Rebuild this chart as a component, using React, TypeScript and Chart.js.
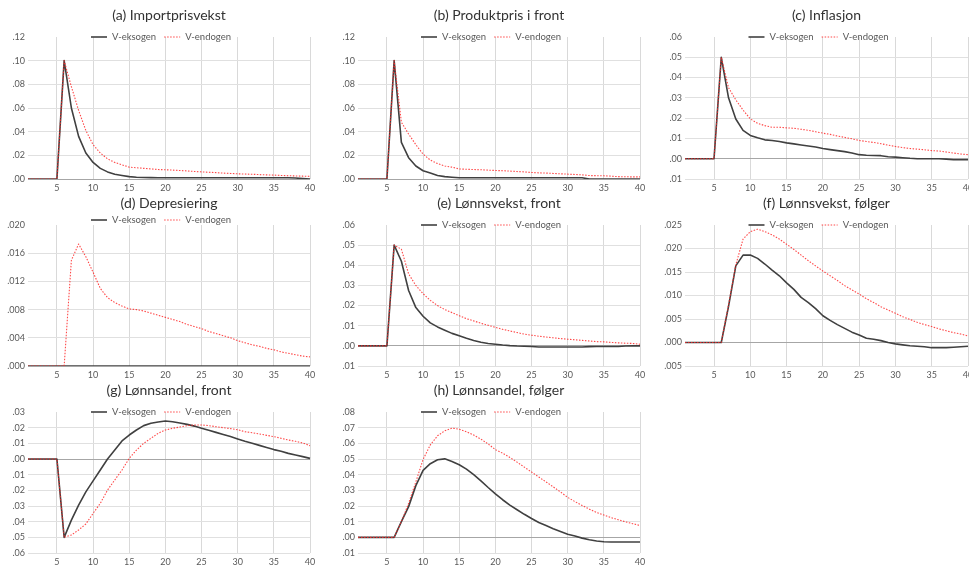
import React, { useEffect, useRef } from 'react';
import { Chart, registerables } from 'chart.js';

Chart.register(...registerables);

const periods = ['1','2','3','4','5','6','7','8','9','10','11','12','13','14','15','16','17','18','19','20','21','22','23','24','25','26','27','28','29','30','31','32','33','34','35','36','37','38','39','40'];

const seriesNames = ['V-eksogen', 'V-endogen'];

const importEks = [0,0,0,0,0, .100,.060,.036,.022,.014, .009,.006,.004,.003,.002, .0015,.0013,.0012,.0011,.001, .001,.001,.001,.001,.001, .001,.001,.001,.001,.001, .001,.001,.001,.001,.001, .001,.001,.0008,.0004,0];
const importEnd = [0,0,0,0,0, .100,.078,.058,.041,.029, .022,.017,.014,.012,.010, .0095,.009,.0085,.008,.0078, .0075,.0072,.0068,.0064,.006, .0057,.0054,.005,.0047,.0044, .0042,.004,.0037,.0035,.0033, .003,.0028,.0026,.0024,.0022];

const prodEks = [0,0,0,0,0, .100,.031,.018,.011,.007, .005,.003,.002,.0015,.001, .001,.001,.001,.001,.001, .001,.001,.001,.001,.001, .001,.001,.001,.001,.001, .001,.001,0,0,0, 0,0,0,0,0];
const prodEnd = [0,0,0,0,0, .100,.048,.038,.029,.021, .016,.013,.011,.010,.0085, .0082,.008,.0078,.0075,.0072, .007,.0067,.0063,.006,.0055, .0052,.005,.0047,.0044,.0041, .0038,.0035,.0029,.0028,.0027, .0024,.002,.0019,.0018,.0018];

const inflEks = [0,0,0,0,0, .050,.030,.0196,.014,.0115, .0103,.0093,.009,.0085,.0078, .0073,.0068,.0063,.0058,.005, .0045,.004,.0035,.0028,.002, .0017,.0016,.0015,.001,.0008, .0005,.0002,0,0,0, 0,-.0002,-.0005,-.0005,-.0005];
const inflEnd = [0,0,0,0,0, .050,.035,.029,.024,.0196, .0175,.0163,.0155,.0155,.0152, .015,.0145,.014,.0133,.0126, .012,.0112,.0105,.0098,.009, .0085,.008,.0074,.0067,.006, .0055,.005,.0047,.0044,.004, .0038,.0033,.0028,.0023,.002];

const deprEks = [0,0,0,0,0, 0,0,0,0,0, 0,0,0,0,0, 0,0,0,0,0, 0,0,0,0,0, 0,0,0,0,0, 0,0,0,0,0, 0,0,0,0,0];
const deprEnd = [0,0,0,0,0, 0,.015,.0173,.0155,.0133, .011,.0097,.009,.0085,.0081, .008,.0078,.0075,.0072,.0069, .0066,.0063,.0059,.0056,.0053, .0049,.0046,.0043,.004,.0036, .0033,.003,.0028,.0025,.0023, .002,.0018,.0016,.0014,.0013];

const wageFrontEks = [0,0,0,0,0, .050,.042,.0275,.019,.0147, .0114,.0094,.0078,.0062,.005, .0038,.0027,.0018,.0012,.0008, .0004,.0001,-.0001,-.0002,-.0003, -.0006,-.0006,-.0006,-.0006,-.0006, -.0006,-.0006,-.0004,-.0003,-.0003, -.0003,-.0003,-.0001,0,0];
const wageFrontEnd = [0,0,0,0,0, .050,.048,.0357,.030,.0259, .0226,.020,.018,.0165,.015, .0135,.0124,.0112,.0102,.0092, .0082,.0074,.0066,.0058,.0053, .0048,.0044,.004,.0036,.0033, .003,.0027,.0024,.0021,.002, .0017,.0015,.0013,.0012,.0008];

const wageFollowEks = [0,0,0,0,0, 0,.0077,.0163,.0186,.0186, .0179,.0167,.0154,.0142,.0127, .0113,.0096,.0085,.0072,.0057, .0047,.0038,.003,.0022,.0016, .0009,.0007,.0004,0,-.0003, -.0005,-.0007,-.0008,-.0009,-.0011, -.0011,-.0011,-.001,-.0009,-.0008];
const wageFollowEnd = [0,0,0,0,0, 0,.008,.0165,.022,.0236, .0241,.0236,.0229,.022,.0209, .0198,.0186,.0174,.0163,.0152, .0142,.0132,.0121,.0112,.0103, .0093,.0085,.0076,.0069,.0062, .0055,.0049,.0043,.0038,.0034, .0029,.0025,.0021,.0018,.0014];

const shareFrontEks = [0,0,0,0,0, -.050,-.039,-.0294,-.021,-.014, -.007,0,.0057,.0115,.0153, .0185,.0213,.0228,.0236,.0243, .0238,.023,.0221,.021,.0196, .0183,.017,.0157,.0143,.0128, .0113,.01,.0087,.0074,.006, .0049,.0036,.0026,.0015,.0004];
const shareFrontEnd = [0,0,0,0,0, -.050,-.0485,-.0453,-.0415,-.0347, -.0283,-.0198,-.0134,-.007,.0004, .0057,.01,.0132,.0164,.0185, .0196,.0204,.0213,.0217,.0217, .0213,.0206,.02,.0194,.0187, .0174,.0168,.016,.0151,.0143, .0132,.0121,.0113,.0102,.0085];

const shareFollowEks = [0,0,0,0,0, 0,.01,.0196,.033,.0427, .047,.0495,.0501,.0484,.0463, .0435,.040,.036,.0318,.0278, .024,.0206,.0176,.0147,.012, .0095,.0075,.0055,.0037,.002, .0008,-.0005,-.0015,-.0023,-.0028, -.003,-.003,-.003,-.003,-.003];
const shareFollowEnd = [0,0,0,0,0, 0,.01,.0217,.0354,.0497, .059,.0648,.068,.0697,.069, .0674,.0653,.0627,.0596,.056, .0537,.051,.048,.0448,.0417, .0385,.0354,.0322,.029,.0255, .0228,.0203,.018,.0158,.0142, .0126,.0112,.0099,.0087,.0076];

const titles = ['(a) Importprisvekst', '(b) Produktpris i front', '(c) Inflasjon', '(d) Depresiering', '(e) Lønnsvekst, front', '(f) Lønnsvekst, følger', '(g) Lønnsandel, front', '(h) Lønnsandel, følger'];
// [min, max, step, decimals]
const yAxes = [
  [0, 0.12, 0.02, 2],
  [0, 0.12, 0.02, 2],
  [-0.01, 0.06, 0.01, 2],
  [0, 0.02, 0.004, 3],
  [-0.01, 0.06, 0.01, 2],
  [-0.005, 0.025, 0.005, 3],
  [-0.06, 0.03, 0.01, 2],
  [-0.01, 0.08, 0.01, 2],
];
const eksSeries = [importEks, prodEks, inflEks, deprEks, wageFrontEks, wageFollowEks, shareFrontEks, shareFollowEks];
const endSeries = [importEnd, prodEnd, inflEnd, deprEnd, wageFrontEnd, wageFollowEnd, shareFrontEnd, shareFollowEnd];

const colLeft = [28, 358, 685];
const colRight = [310, 640, 968];
const rowTop = [37, 225, 412];
const rowBottom = [179, 366, 553];

const FONT = 'Lato, "Open Sans", sans-serif';
const BLACK = '#404040';
const RED = 'rgba(255,40,40,0.85)';
const PAD_TOP = 34;
const Y_W = 30;
const X_H = 16;
const PAD_R = 10;

function Panel({ idx }: { idx: number }) {
  const ref = useRef<HTMLCanvasElement | null>(null);
  const col = idx % 3;
  const row = Math.floor(idx / 3);
  const pl = colLeft[col], pr = colRight[col], pt = rowTop[row], pb = rowBottom[row];
  const w = pr - pl + Y_W + PAD_R;
  const h = pb - pt + PAD_TOP + X_H;

  useEffect(() => {
    if (!ref.current) return;
    const [ymin, ymax, ystep, dec] = yAxes[idx];
    const decor = {
      id: 'decor' + idx,
      afterDraw(chart: any) {
        const ctx = chart.ctx;
        const ca = chart.chartArea;
        const cx = (ca.left + ca.right) / 2;
        ctx.save();
        ctx.fillStyle = '#333333';
        ctx.font = '14px ' + FONT;
        ctx.textAlign = 'center';
        ctx.textBaseline = 'middle';
        ctx.fillText(titles[idx], cx, ca.top - 22);
        // legend
        ctx.font = '9.5px ' + FONT;
        const t1 = ctx.measureText(seriesNames[0]).width;
        const t2 = ctx.measureText(seriesNames[1]).width;
        const sw = 16, g1 = 5, g2 = 8;
        const total = sw + g1 + t1 + g2 + sw + g1 + t2;
        let x = cx - 8 - total / 2;
        const y = ca.top + (row === 1 && col === 0 ? -5 : 0);
        ctx.textAlign = 'left';
        ctx.lineWidth = 1.6;
        ctx.strokeStyle = BLACK;
        ctx.beginPath(); ctx.moveTo(x, y); ctx.lineTo(x + sw, y); ctx.stroke();
        x += sw + g1;
        ctx.fillStyle = '#595959';
        ctx.fillText(seriesNames[0], x, y);
        x += t1 + g2;
        ctx.lineWidth = 1;
        ctx.strokeStyle = RED;
        ctx.setLineDash([1.5, 1.5]);
        ctx.beginPath(); ctx.moveTo(x, y); ctx.lineTo(x + sw, y); ctx.stroke();
        ctx.setLineDash([]);
        x += sw + g1;
        ctx.fillText(seriesNames[1], x, y);
        ctx.restore();
      },
    };
    const chart = new Chart(ref.current, {
      type: 'line',
      data: {
        labels: periods,
        datasets: [
          {
            label: seriesNames[0],
            data: eksSeries[idx],
            borderColor: BLACK,
            borderWidth: 1.6,
            borderJoinStyle: 'round',
            pointRadius: 0,
            tension: 0,
            order: 1,
          },
          {
            label: seriesNames[1],
            data: endSeries[idx],
            borderColor: RED,
            borderWidth: 1.1,
            borderDash: [1.5, 1.5],
            borderJoinStyle: 'round',
            pointRadius: 0,
            tension: 0,
            order: 0,
          },
        ],
      },
      options: {
        responsive: false,
        animation: false,
        devicePixelRatio: 1,
        layout: { padding: { left: 0, top: PAD_TOP, right: PAD_R, bottom: 0 } },
        plugins: {
          legend: { display: false },
          title: { display: false },
          tooltip: { enabled: false },
        },
        scales: {
          x: {
            type: 'category',
            offset: false,
            afterFit: (s: any) => { s.height = X_H; },
            border: { display: false },
            grid: {
              drawTicks: false,
              tickLength: 0,
              lineWidth: 1,
              color: (c: any) => ((c.index + 1) % 5 === 0 ? '#d9d9d9' : 'rgba(0,0,0,0)'),
            },
            ticks: {
              autoSkip: false,
              maxRotation: 0,
              minRotation: 0,
              padding: 4,
              color: '#595959',
              font: { family: FONT, size: 9 },
              callback: (_v: any, i: number) => ((i + 1) % 5 === 0 ? periods[i] : ''),
            },
          },
          y: {
            min: ymin,
            max: ymax,
            afterFit: (s: any) => { s.width = Y_W; },
            border: { display: false },
            grid: {
              drawTicks: false,
              tickLength: 0,
              lineWidth: 1,
              color: (c: any) => {
                const v = c.tick ? c.tick.value : 0;
                if (Math.abs(v - ymax) < 1e-9) return 'rgba(0,0,0,0)';
                if (Math.abs(v) < 1e-9) return '#a6a6a6';
                return '#e0e0e0';
              },
            },
            ticks: {
              stepSize: ystep,
              padding: 3,
              color: '#595959',
              font: { family: FONT, size: 9 },
              callback: (v: any) => Math.abs(Number(v)).toFixed(dec).replace(/^0/, ''),
            },
          },
        },
      },
      plugins: [decor],
    } as any);
    return () => chart.destroy();
  }, [idx]);

  return (
    <canvas
      ref={ref}
      width={w}
      height={h}
      style={{ position: 'absolute', left: pl - Y_W, top: pt - PAD_TOP, width: w, height: h, display: 'block' }}
    />
  );
}

export default function App() {
  return (
    <div style={{ position: 'absolute', left: 0, top: 0, width: 969, height: 568, overflow: 'hidden', background: '#ffffff' }}>
      {titles.map((_, i) => (
        <Panel key={i} idx={i} />
      ))}
    </div>
  );
}
